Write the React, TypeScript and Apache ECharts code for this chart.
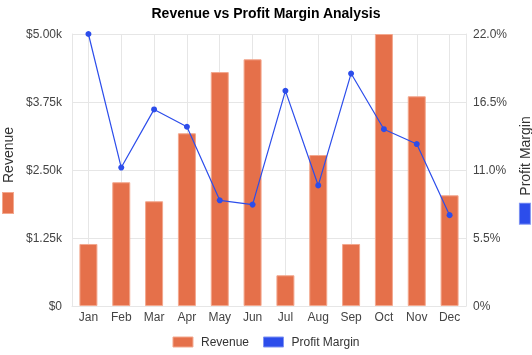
import React, { useEffect, useRef } from "react";
import * as echarts from "echarts";

const months = ["Jan", "Feb", "Mar", "Apr", "May", "Jun", "Jul", "Aug", "Sep", "Oct", "Nov", "Dec"];
const revenue = [1140, 2275, 1925, 3175, 4300, 4535, 565, 2775, 1140, 5000, 3855, 2035];
const profitMargin = [22.0, 11.2, 15.9, 14.5, 8.55, 8.2, 17.4, 9.75, 18.8, 14.3, 13.1, 7.35];

const ORANGE = "#E5704A";
const ORANGE_BORDER = "#F3A88E";
const BLUE = "#2C4DEB";
const BLUE_BORDER = "#7F93F3";
const GRID = "#E6E6E6";
const FONT = "'Liberation Sans', Arial, sans-serif";

export default function App() {
  const ref = useRef<HTMLDivElement>(null);
  useEffect(() => {
    if (!ref.current) return;
    const chart = echarts.init(ref.current, undefined, { renderer: "svg" });
    chart.setOption({
      animation: false,
      textStyle: { fontFamily: FONT },
      title: {
        text: "Revenue vs Profit Margin Analysis",
        left: "center",
        top: 1,
        textStyle: { fontSize: 14, fontWeight: "bold", color: "#000", fontFamily: FONT },
      },
      legend: {
        bottom: 2,
        left: "center",
        icon: "rect",
        itemWidth: 20,
        itemHeight: 10,
        itemGap: 14,
        textStyle: { fontSize: 12, color: "#333", fontFamily: FONT, padding: [0, 0, 0, 3] },
        data: [
          { name: "Revenue", itemStyle: { color: ORANGE, borderColor: ORANGE_BORDER, borderWidth: 1 } },
          { name: "Profit Margin", itemStyle: { color: BLUE, borderColor: BLUE_BORDER, borderWidth: 1 } },
        ],
      },
      grid: { left: 72, right: 66, top: 34, bottom: 49, containLabel: false, outerBoundsMode: "none" },
      xAxis: {
        type: "category",
        data: months,
        boundaryGap: true,
        axisLine: { show: true, lineStyle: { color: GRID } },
        axisTick: {
          show: true,
          alignWithLabel: true,
          inside: true,
          length: 272,
          lineStyle: { color: GRID, width: 1 },
        },
        splitLine: { show: false },
        axisLabel: { fontSize: 12, color: "#444", margin: 5, fontFamily: FONT },
      },
      yAxis: [
        {
          type: "value",
          min: 0,
          max: 5000,
          interval: 1250,
          name: "{b|}{t|Revenue}",
          nameLocation: "middle",
          nameRotate: 90,
          nameGap: 57,
          nameTextStyle: {
            rich: {
              b: {
                width: 20,
                height: 10,
                backgroundColor: ORANGE,
                borderColor: ORANGE_BORDER,
                borderWidth: 1,
                verticalAlign: "middle",
              },
              t: {
                fontSize: 14,
                color: "#333",
                fontFamily: FONT,
                padding: [0, 0, 0, 10],
                verticalAlign: "middle",
              },
            },
          },
          axisLine: { show: true, lineStyle: { color: GRID } },
          axisTick: { show: false },
          splitLine: { show: true, lineStyle: { color: GRID } },
          axisLabel: {
            fontSize: 12,
            color: "#444",
            margin: 10,
            fontFamily: FONT,
            formatter: (v: number) => (v === 0 ? "$0" : "$" + (v / 1000).toFixed(2) + "k"),
          },
        },
        {
          type: "value",
          min: 0,
          max: 22,
          interval: 5.5,
          name: "{b|}{t|Profit Margin}",
          nameLocation: "middle",
          nameRotate: 90,
          nameGap: 51,
          nameTextStyle: {
            rich: {
              b: {
                width: 20,
                height: 10,
                backgroundColor: BLUE,
                borderColor: BLUE_BORDER,
                borderWidth: 1,
                verticalAlign: "middle",
              },
              t: {
                fontSize: 14,
                color: "#333",
                fontFamily: FONT,
                padding: [0, 0, 0, 8],
                verticalAlign: "middle",
              },
            },
          },
          axisLine: { show: true, lineStyle: { color: GRID } },
          axisTick: { show: false },
          splitLine: { show: false },
          axisLabel: {
            fontSize: 12,
            color: "#444",
            margin: 7,
            fontFamily: FONT,
            formatter: (v: number) => (v === 0 ? "0%" : v.toFixed(1) + "%"),
          },
        },
      ],
      series: [
        {
          name: "Revenue",
          type: "bar",
          yAxisIndex: 0,
          data: revenue,
          barWidth: 18,
          itemStyle: { color: ORANGE, borderColor: ORANGE_BORDER, borderWidth: 1 },
        },
        {
          name: "Profit Margin",
          type: "line",
          yAxisIndex: 1,
          data: profitMargin,
          symbol: "circle",
          symbolSize: 6,
          clip: false,
          lineStyle: { color: BLUE, width: 1.2 },
          itemStyle: { color: BLUE },
        },
      ],
    });
    return () => chart.dispose();
  }, []);
  return (
    <div
      ref={ref}
      style={{ position: "fixed", left: 0, top: 0, width: 532, height: 355 }}
    />
  );
}
